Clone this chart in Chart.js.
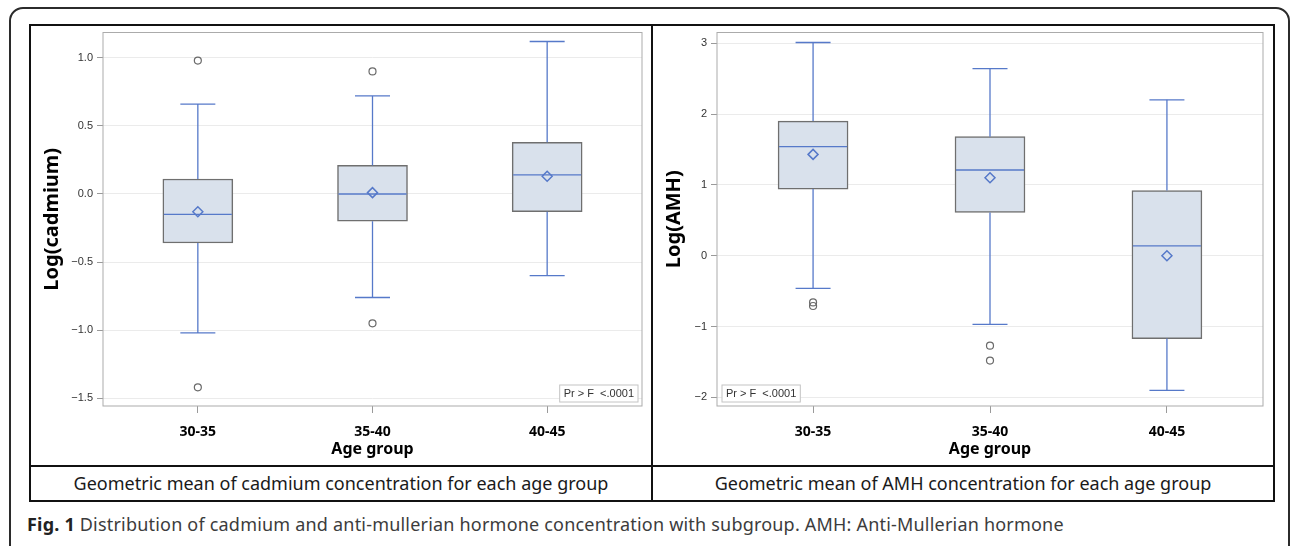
<!DOCTYPE html>
<html>
<head>
<meta charset="utf-8">
<script src="https://cdn.jsdelivr.net/npm/chart.js@4.4.1/dist/chart.umd.min.js"></script>
<style>
    html, body { margin: 0; padding: 0; background: #fff; }
    body { width: 1292px; height: 546px; position: relative; overflow: hidden; font-family: 'Noto Sans', sans-serif; }
    #outer { position: absolute; left: 9px; top: 7px; width: 1281px; height: 560px; border: 2px solid #2b2b2b; border-radius: 14px; box-sizing: border-box; }
    #tbl { position: absolute; left: 29px; top: 24px; width: 1246px; height: 478px; border: 2px solid #111; box-sizing: border-box; }
    .vdiv { position: absolute; left: 651px; top: 24px; width: 2px; height: 478px; background: #111; }
    .hdiv { position: absolute; left: 29px; top: 465px; width: 1246px; height: 2px; background: #111; }
    .plot { position: absolute; top: 26px; width: 620px; height: 439px; }
    .cap { position: absolute; top: 467px; width: 620px; height: 33px; line-height: 33px; text-align: center; font-size: 18px; color: #1a1a1a; }
    #figcap { position: absolute; left: 27px; top: 512px; font-size: 18px; letter-spacing: 0.2px; color: #3c3c3c; white-space: nowrap; }
    #figcap b { color: #222; }
</style>
</head>
<body>
<div id="outer"></div>
<div id="tbl"></div>
<div class="vdiv"></div>
<div class="hdiv"></div>
<div class="plot" style="left:31px"><canvas id="cdChart" width="620" height="439"></canvas></div>
<div class="plot" style="left:653px"><canvas id="amhChart" width="620" height="439"></canvas></div>
<div class="cap" style="left:31px">Geometric mean of cadmium concentration for each age group</div>
<div class="cap" style="left:653px">Geometric mean of AMH concentration for each age group</div>
<div id="figcap"><b>Fig. 1</b> Distribution of cadmium and anti-mullerian hormone concentration with subgroup. AMH: Anti-Mullerian hormone</div>

<script>
const ageGroups = ['30-35', '35-40', '40-45'];
const pValueText = 'Pr > F  <.0001';

// Log(cadmium)
const cdLow = [-1.02, -0.76, -0.60];
const cdQ1 = [-0.36, -0.20, -0.13];
const cdMedian = [-0.15, 0.00, 0.14];
const cdQ3 = [0.11, 0.21, 0.38];
const cdHigh = [0.66, 0.72, 1.12];
const cdMean = [-0.13, 0.01, 0.13];
const cdOutliers = [[0.98, -1.42], [0.90, -0.95], []];
const cdTicks = [-1.5, -1.0, -0.5, 0.0, 0.5, 1.0];

// Log(AMH)
const amhLow = [-0.46, -0.97, -1.90];
const amhQ1 = [0.94, 0.61, -1.17];
const amhMedian = [1.54, 1.21, 0.14];
const amhQ3 = [1.90, 1.68, 0.92];
const amhHigh = [3.01, 2.64, 2.20];
const amhMean = [1.43, 1.10, 0.00];
const amhOutliers = [[-0.66, -0.71], [-1.27, -1.48], []];
const amhTicks = [-2, -1, 0, 1, 2, 3];

const blue = '#5679c9';
const boxFill = '#d9e1ec';
const boxLine = '#6f6f6f';

Chart.defaults.font.family = "'Noto Sans', sans-serif";

// whiskers, caps and median lines, drawn right after the box dataset
const boxLines = {
    id: 'boxLines',
    afterDatasetDraw(chart, args, opts) {
        if (args.index !== 0) return;
        const { ctx, scales: { x, y } } = chart;
        const s = opts.stats;
        const bars = chart.getDatasetMeta(0).data;
        const seg = (x1, y1, x2, y2) => { ctx.beginPath(); ctx.moveTo(x1, y1); ctx.lineTo(x2, y2); ctx.stroke(); };
        ctx.save();
        ctx.strokeStyle = blue;
        ctx.lineWidth = 1.3;
        s.median.forEach((med, i) => {
            const cx = x.getPixelForValue(i);
            const half = bars[i].width / 2;
            const cap = half / 2;
            const yHi = y.getPixelForValue(s.high[i]);
            const yLo = y.getPixelForValue(s.low[i]);
            seg(cx, y.getPixelForValue(s.q3[i]), cx, yHi);
            seg(cx, y.getPixelForValue(s.q1[i]), cx, yLo);
            seg(cx - cap, yHi, cx + cap, yHi);
            seg(cx - cap, yLo, cx + cap, yLo);
            const yMed = y.getPixelForValue(med);
            seg(cx - half + 1, yMed, cx + half - 1, yMed);
        });
        ctx.restore();
    },
    afterDraw(chart, args, opts) {
        const { ctx, chartArea: a } = chart;
        ctx.save();
        ctx.strokeStyle = '#ababab';
        ctx.lineWidth = 1;
        ctx.strokeRect(a.left, a.top, a.right - a.left, a.bottom - a.top);
        // p-value inset
        ctx.font = "11px 'Liberation Sans', Arial, sans-serif";
        const w = ctx.measureText(opts.pText).width + 8;
        const h = 17;
        const bx = opts.corner === 'right' ? a.right - 4 - w : a.left + 5;
        const by = a.bottom - 4 - h;
        ctx.fillStyle = '#fff';
        ctx.fillRect(bx, by, w, h);
        ctx.strokeStyle = '#c4c4c4';
        ctx.strokeRect(bx, by, w, h);
        ctx.fillStyle = '#333';
        ctx.textBaseline = 'middle';
        ctx.fillText(opts.pText, bx + 4, by + h / 2 + 0.5);
        ctx.restore();
    }
};

function makeBoxChart(canvasId, stats, outliers, ticks, yTitle, yMin, yMax, yWidth, pad, corner, fmt) {
    const outlierPoints = [];
    outliers.forEach((list, i) => list.forEach(v => outlierPoints.push({ x: i, y: v })));

    return new Chart(document.getElementById(canvasId), {
        type: 'scatter',
        data: {
            datasets: [
                {
                    type: 'bar',
                    data: stats.q1.map((q, i) => ({ x: i, y: [q, stats.q3[i]] })),
                    backgroundColor: boxFill,
                    borderColor: boxLine,
                    borderWidth: 1.5,
                    borderSkipped: false,
                    barThickness: 70,
                    order: 2
                },
                {
                    data: stats.mean.map((m, i) => ({ x: i, y: m })),
                    pointStyle: 'rectRot',
                    pointRadius: 5,
                    borderColor: blue,
                    backgroundColor: 'rgba(0,0,0,0)',
                    borderWidth: 1.5,
                    order: 1
                },
                {
                    data: outlierPoints,
                    pointStyle: 'circle',
                    pointRadius: 3.5,
                    borderColor: '#6a6a6a',
                    backgroundColor: 'rgba(0,0,0,0)',
                    borderWidth: 1.2,
                    order: 0
                }
            ]
        },
        options: {
            responsive: false,
            animation: false,
            events: [],
            layout: { padding: { left: 0, top: 6, right: pad, bottom: 0 } },
            plugins: {
                legend: { display: false },
                tooltip: { enabled: false },
                boxLines: { stats: stats, pText: pValueText, corner: corner }
            },
            scales: {
                x: {
                    type: 'linear',
                    min: -0.543,
                    max: 2.543,
                    offset: false,
                    afterBuildTicks: axis => { axis.ticks = ageGroups.map((g, i) => ({ value: i })); },
                    afterFit: axis => { axis.height = 59; axis.paddingLeft = 0; axis.paddingRight = 0; },
                    ticks: {
                        callback: v => ageGroups[v],
                        font: { size: 14, weight: 'bold' },
                        color: '#000',
                        padding: 11,
                        maxRotation: 0
                    },
                    grid: { offset: false, drawOnChartArea: false, drawTicks: true, tickLength: 7, tickColor: '#9a9a9a' },
                    border: { display: false },
                    title: { display: true, text: 'Age group', font: { size: 16, weight: 'bold' }, color: '#000', padding: { top: 0, bottom: 6 } }
                },
                y: {
                    min: yMin,
                    max: yMax,
                    afterBuildTicks: axis => { axis.ticks = ticks.map(v => ({ value: v })); },
                    afterFit: axis => { axis.width = yWidth; axis.paddingTop = 0; axis.paddingBottom = 0; },
                    ticks: {
                        callback: fmt,
                        font: { size: 11, family: "'Liberation Sans', Arial, sans-serif" },
                        color: '#333',
                        padding: 4
                    },
                    grid: { color: '#ebebeb', tickColor: '#9a9a9a', tickLength: 6 },
                    border: { display: false },
                    title: { display: true, text: yTitle, font: { size: 20, weight: 'bold' }, color: '#000', padding: { top: 9, bottom: 0 } }
                }
            }
        },
        plugins: [boxLines]
    });
}

makeBoxChart('cdChart',
    { low: cdLow, q1: cdQ1, median: cdMedian, q3: cdQ3, high: cdHigh, mean: cdMean },
    cdOutliers, cdTicks, 'Log(cadmium)', -1.557, 1.186, 72, 9, 'right',
    v => v.toFixed(1).replace('-', '\u2212'));

makeBoxChart('amhChart',
    { low: amhLow, q1: amhQ1, median: amhMedian, q3: amhQ3, high: amhHigh, mean: amhMean },
    amhOutliers, amhTicks, 'Log(AMH)', -2.122, 3.151, 64, 10, 'left',
    v => String(v).replace('-', '\u2212'));
</script>
</body>
</html>
